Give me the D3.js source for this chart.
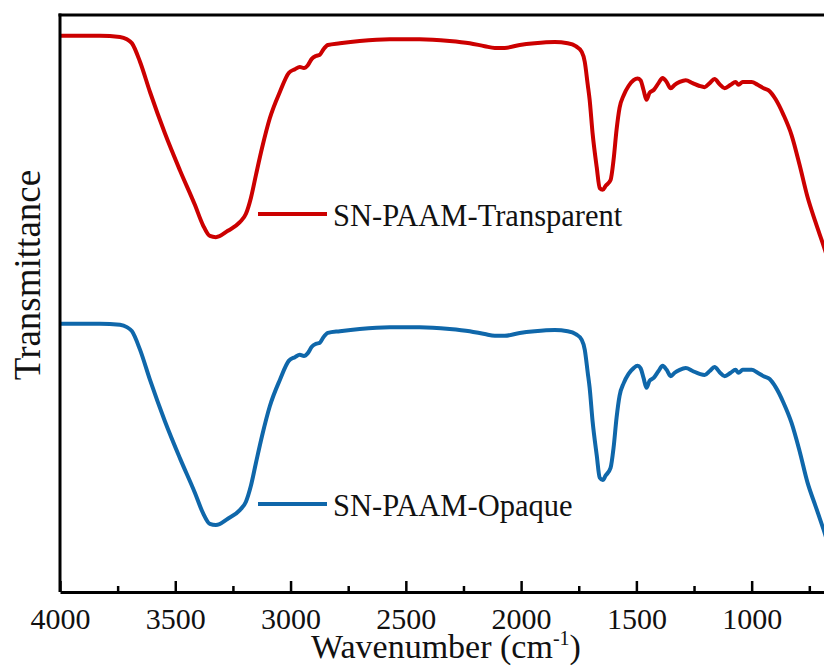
<!DOCTYPE html>
<html>
<head>
<meta charset="utf-8">
<script src="https://cdn.jsdelivr.net/npm/d3@7/dist/d3.min.js"></script>
<style>
  html, body { margin: 0; padding: 0; background: #fff; }
  svg { display: block; }
  svg text { font-family: "Liberation Serif", "Times New Roman", Times, "DejaVu Serif", serif; fill: #111; }
</style>
</head>
<body>
<svg id="chart" width="824" height="668"></svg>
<script>
// FTIR spectra, wavenumber grid (cm^-1) shared by both samples
const wavenumbers = [4000, 3827, 3740, 3710, 3688, 3653, 3610, 3545, 3480, 3415,
  3380, 3350, 3324, 3272, 3220, 3194, 3172, 3150, 3124, 3090,
  3046, 3007, 2981, 2960, 2942, 2925, 2908, 2890, 2873, 2860,
  2838, 2786, 2700, 2570, 2440, 2310, 2223, 2158, 2114, 2071,
  2006, 1941, 1854, 1798, 1763, 1737, 1724, 1711, 1703, 1690,
  1672, 1659, 1646, 1633, 1612, 1599, 1586, 1573, 1555, 1534,
  1512, 1495, 1482, 1469, 1456, 1443, 1425, 1404, 1386, 1369,
  1351, 1334, 1312, 1286, 1256, 1226, 1204, 1182, 1161, 1139,
  1117, 1091, 1070, 1057, 1039, 1000, 974, 948, 922, 896,
  862, 827, 792, 758, 723, 688, 654];

// Transmittance (a.u., stacked) for each sample
const transparentT = [96.4, 96.4, 96.2, 95.8, 95.1, 91.9, 86.7, 79.5, 73.1, 67.1,
  63.6, 61.7, 61.5, 62.6, 64.1, 65.5, 68.3, 72.3, 76.9, 82.1,
  86.7, 90.0, 90.6, 91.0, 90.8, 91.3, 92.4, 92.9, 93.1, 93.9,
  94.8, 95.1, 95.5, 95.8, 95.8, 95.5, 95.1, 94.6, 94.3, 94.3,
  94.8, 95.1, 95.3, 95.1, 94.6, 93.6, 91.9, 87.9, 85.4, 79.5,
  73.6, 70.0, 69.7, 70.4, 71.4, 74.9, 80.1, 83.9, 86.1, 87.7,
  88.7, 89.0, 88.7, 87.0, 85.3, 86.5, 87.0, 88.2, 89.1, 88.4,
  87.3, 87.9, 88.4, 88.7, 88.2, 87.7, 87.5, 88.2, 88.9, 88.0,
  87.3, 87.9, 88.4, 87.9, 88.4, 88.4, 87.9, 87.3, 86.8, 85.4,
  82.7, 79.2, 74.0, 68.5, 64.1, 60.0, 55.8];

const opaqueT = [46.5, 46.5, 46.3, 45.9, 45.2, 42.0, 36.8, 29.6, 23.2, 17.2,
  13.7, 11.8, 11.6, 12.7, 14.2, 15.6, 18.4, 22.4, 27.0, 32.2,
  36.8, 40.1, 40.7, 41.1, 40.9, 41.4, 42.5, 43.0, 43.2, 44.0,
  44.9, 45.2, 45.6, 45.9, 45.9, 45.6, 45.2, 44.7, 44.4, 44.4,
  44.9, 45.2, 45.4, 45.2, 44.7, 43.7, 42.0, 38.0, 35.5, 29.6,
  23.7, 19.8, 19.4, 20.2, 21.5, 25.0, 30.2, 34.0, 36.2, 37.8,
  38.8, 39.2, 38.8, 37.1, 35.4, 36.6, 37.1, 38.3, 39.2, 38.5,
  37.4, 38.0, 38.5, 38.8, 38.3, 37.8, 37.6, 38.3, 39.0, 38.1,
  37.4, 38.0, 38.5, 38.0, 38.5, 38.5, 38.0, 37.4, 36.9, 35.5,
  32.8, 29.3, 24.4, 19.0, 14.9, 10.8, 6.6];

const seriesNames = ["SN-PAAM-Transparent", "SN-PAAM-Opaque"];
const seriesColors = ["#cc0000", "#0f67aa"];
const majorTicks = [4000, 3500, 3000, 2500, 2000, 1500, 1000];
const minorTicks = [3750, 3250, 2750, 2250, 1750, 1250, 750];
const xTitle = "Wavenumber (cm";
const xTitleSup = "-1";
const yTitle = "Transmittance";

const serif = "'Liberation Serif', 'Times New Roman', Times, 'DejaVu Serif', serif";

const svg = d3.select("#chart");
const plotLeft = 60, plotTop = 15, plotBottom = 592, plotRight = 890;

const x = d3.scaleLinear().domain([4000, 400]).range([plotLeft, plotRight]);
const y = d3.scaleLinear().domain([0, 100]).range([plotBottom, plotTop]);

svg.append("defs").append("clipPath").attr("id", "plotClip")
  .append("rect").attr("x", plotLeft).attr("y", plotTop)
  .attr("width", plotRight - plotLeft).attr("height", plotBottom - plotTop);

// spectra
const line = d3.line()
  .x(d => x(d[0]))
  .y(d => y(d[1]))
  .curve(d3.curveMonotoneX);

const seriesValues = [transparentT, opaqueT];
const plot = svg.append("g").attr("clip-path", "url(#plotClip)");
seriesValues.forEach((vals, i) => {
  plot.append("path")
    .datum(wavenumbers.map((w, k) => [w, vals[k]]))
    .attr("fill", "none")
    .attr("stroke", seriesColors[i])
    .attr("stroke-width", 4)
    .attr("stroke-linejoin", "round")
    .attr("stroke-linecap", "round")
    .attr("d", line);
});

// frame: left and top edges
svg.append("line").attr("x1", plotLeft).attr("x2", plotLeft).attr("y1", plotTop - 1.5).attr("y2", plotBottom)
  .attr("stroke", "#000").attr("stroke-width", 3);
svg.append("line").attr("x1", plotLeft - 1.5).attr("x2", plotRight).attr("y1", plotTop).attr("y2", plotTop)
  .attr("stroke", "#000").attr("stroke-width", 3);

// bottom axis with inward ticks
const xAxis = d3.axisBottom(x).tickValues(majorTicks).tickSize(-11).tickSizeOuter(0)
  .tickPadding(16).tickFormat(d3.format("d"));
const gx = svg.append("g").attr("transform", `translate(0,${plotBottom})`).call(xAxis)
  .attr("font-family", serif).attr("font-size", 30);
gx.select(".domain").attr("stroke", "#000").attr("stroke-width", 3);
gx.selectAll(".tick line").attr("stroke", "#000").attr("stroke-width", 2.5);
gx.selectAll(".tick text").style("font-family", serif).style("font-size", "30px").attr("fill", "#111");

const xMinor = d3.axisBottom(x).tickValues(minorTicks).tickSize(-6).tickSizeOuter(0).tickFormat("");
const gm = svg.append("g").attr("transform", `translate(0,${plotBottom})`).call(xMinor);
gm.select(".domain").remove();
gm.selectAll(".tick line").attr("stroke", "#000").attr("stroke-width", 2.5);

// axis titles
const xt = svg.append("text").attr("x", 446).attr("y", 658).attr("text-anchor", "middle")
  .style("font-family", serif).style("font-size", "34px");
xt.append("tspan").text(xTitle);
xt.append("tspan").style("font-size", "20px").attr("dy", -13).text(xTitleSup);
xt.append("tspan").attr("dy", 13).text(")");

svg.append("text").attr("transform", "translate(40,275) rotate(-90)")
  .attr("text-anchor", "middle").style("font-family", serif).style("font-size", "37px").text(yTitle);

// legends beside each spectrum
const legendY = [214, 504];
seriesNames.forEach((name, i) => {
  svg.append("line").attr("x1", 258).attr("x2", 327)
    .attr("y1", legendY[i]).attr("y2", legendY[i])
    .attr("stroke", seriesColors[i]).attr("stroke-width", 4);
  svg.append("text").attr("x", 333).attr("y", legendY[i] + 12)
    .style("font-family", serif).style("font-size", "30.5px").text(name);
});
</script>
</body>
</html>
